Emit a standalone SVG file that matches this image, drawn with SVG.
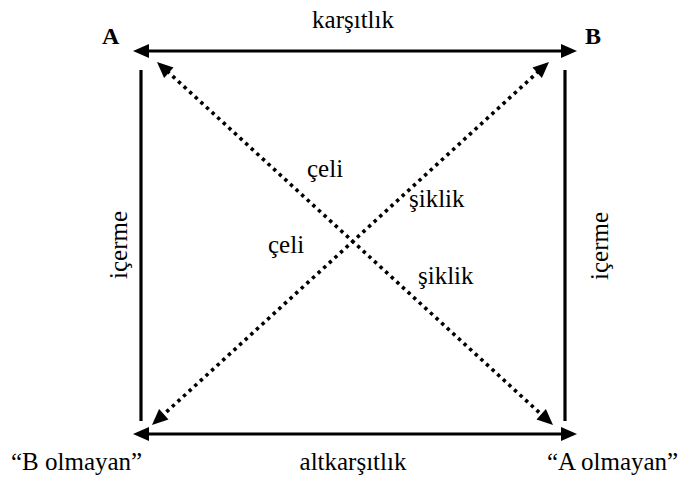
<svg xmlns="http://www.w3.org/2000/svg" width="685" height="479" viewBox="0 0 685 479">
<rect width="685" height="479" fill="#fff"/>
<g id="connectors" stroke="#000" fill="none" stroke-width="3.2">
<line x1="147" y1="51" x2="563" y2="51"/>
<line x1="147" y1="434" x2="563" y2="434"/>
<line x1="141" y1="70" x2="141" y2="421"/>
<line x1="565" y1="70" x2="565" y2="421"/>
<g stroke-width="3.6" stroke-dasharray="3.4 4.2">
<line x1="167" y1="71" x2="543" y2="416"/>
<line x1="539" y1="71" x2="162" y2="416"/>
</g>
<g fill="#000" stroke="none">
<polygon points="133,51 149,44 149,58"/>
<polygon points="577,51 561,44 561,58"/>
<polygon points="133,434 149,427 149,441"/>
<polygon points="577,434 561,427 561,441"/>
<polygon points="157,62 164.1,78 173.5,67.6"/>
<polygon points="553,425 536.5,419.4 545.9,409"/>
<polygon points="549,62 541.9,78 532.5,67.6"/>
<polygon points="152,425 168.5,419.4 159.1,409"/>
</g>
</g>
<g id="labels">
<text x="353" y="28" text-anchor="middle" font-family="Liberation Serif" font-size="25">karşıtlık</text>
<text x="353" y="470" text-anchor="middle" font-family="Liberation Serif" font-size="25">altkarşıtlık</text>
<text transform="translate(126.5,245) rotate(-90)" text-anchor="middle" font-family="Liberation Serif" font-size="25">içerme</text>
<text transform="translate(608,246) rotate(-90)" text-anchor="middle" font-family="Liberation Serif" font-size="25">içerme</text>
<text x="307" y="177" font-family="Liberation Serif" font-size="25">çeli</text>
<text x="409" y="207" font-family="Liberation Serif" font-size="25">şiklik</text>
<text x="268" y="253" font-family="Liberation Serif" font-size="25">çeli</text>
<text x="418" y="284" font-family="Liberation Serif" font-size="25">şiklik</text>
</g>
<g id="nodeA"><text x="102" y="44" font-family="Liberation Serif" font-size="24" font-weight="bold">A</text></g>
<g id="nodeB"><text x="585" y="44" font-family="Liberation Serif" font-size="24" font-weight="bold">B</text></g>
<g id="nodeNotB"><text x="11" y="470" font-family="Liberation Serif" font-size="25">“B olmayan”</text></g>
<g id="nodeNotA"><text x="547" y="470" font-family="Liberation Serif" font-size="25">“A olmayan”</text></g>
</svg>
